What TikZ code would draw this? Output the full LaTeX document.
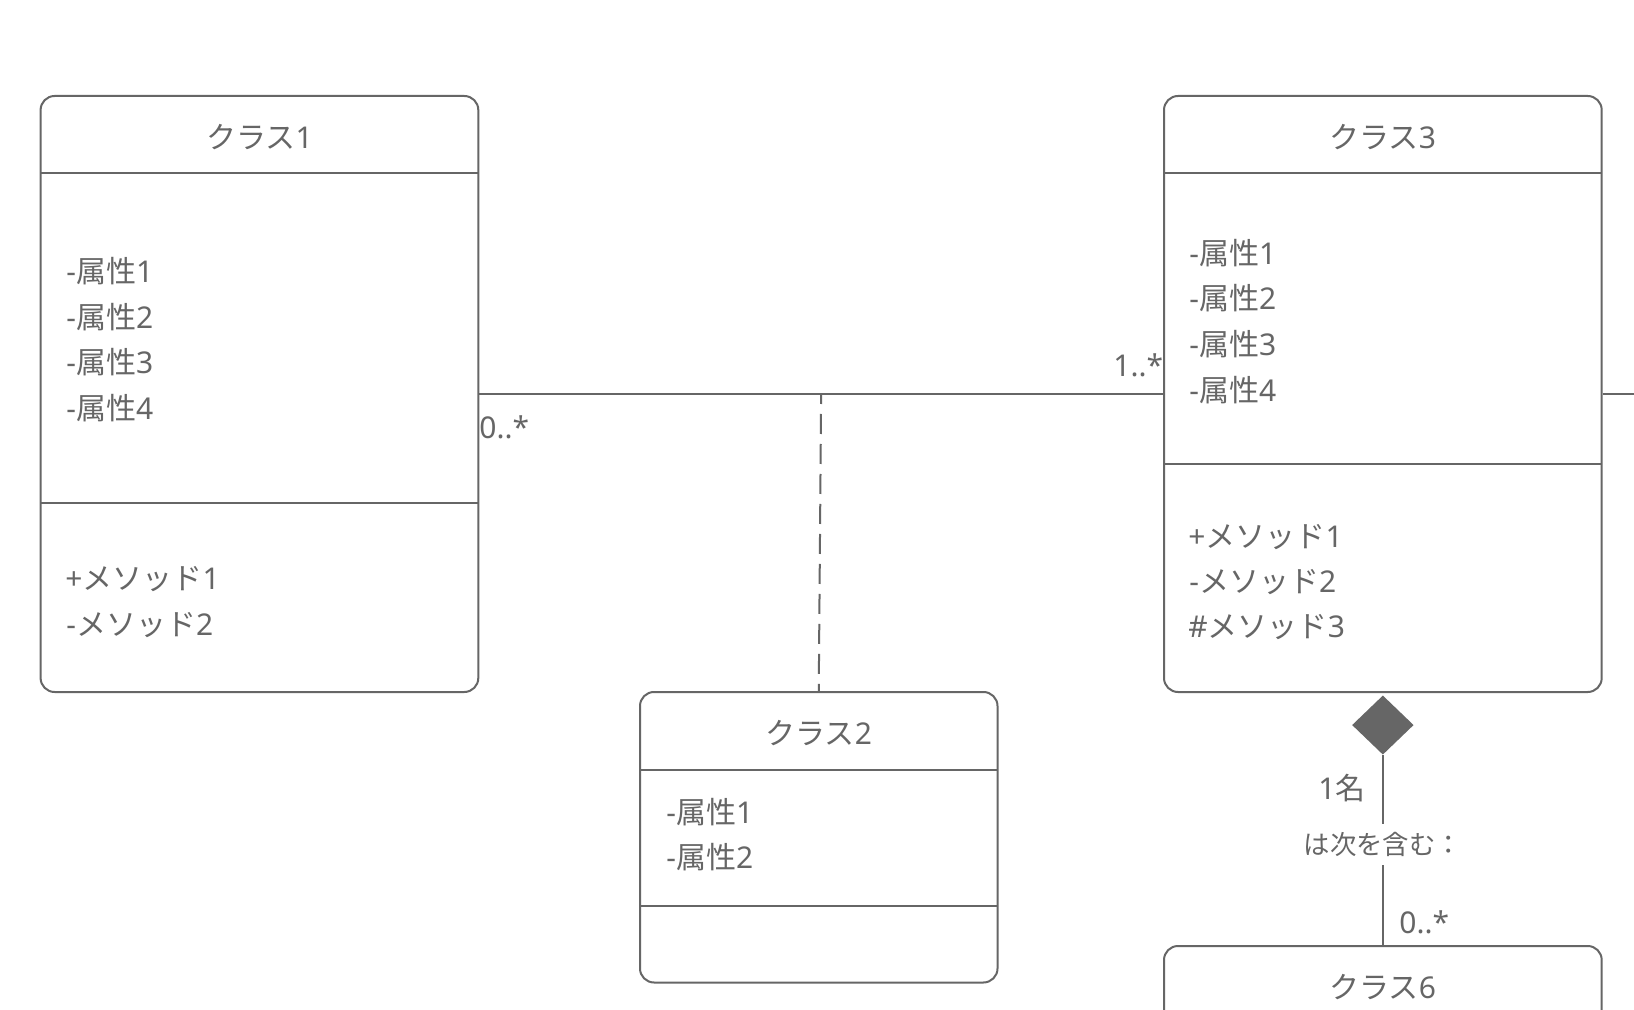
\documentclass[tikz,border=0pt]{standalone}
\usepackage{fontspec}
\setmainfont{Noto Sans CJK JP}
\newfontfamily\latfont{Noto Sans}
\newcommand\ltn[1]{{\latfont #1}}
\usetikzlibrary{shapes.geometric,calc}
\definecolor{lc}{HTML}{666666}
\definecolor{tc}{HTML}{666666}
\tikzset{
  ln/.style={draw=lc, line width=1pt},
  cls/.style={draw=lc, line width=1pt, rounded corners=7pt, inner sep=0pt, fill=white, rectangle},
  ttl/.style={text=tc, font=\fontsize{15}{18}\selectfont, inner sep=0pt, text height=12.45pt, text depth=1.05pt},
  itm/.style={ttl, anchor=west},
  mult/.style={ttl},
  lbl/.style={text=tc, font=\fontsize{13.2}{16}\selectfont, inner xsep=2pt, inner ysep=4.2pt, text height=10.95pt, text depth=0.95pt, fill=white},
  comp/.style={diamond, fill=lc, draw=none, inner sep=0pt, minimum width=30.85pt, minimum height=29.65pt}
}
\begin{document}
\begin{tikzpicture}[x=0.5pt,y=-0.5pt]
\useasboundingbox (0,0) rectangle (1634,1010);
\fill[white] (0,0) rectangle (1634,1010);
\clip (0,0) rectangle (1634,1010);

% classes
\node[cls, minimum width=218.85pt, minimum height=298pt] (c1) at (259.45,394) {};
\node[cls, minimum width=218.85pt, minimum height=298pt] (c3) at (1382.85,394) {};
\node[cls, minimum width=178.75pt, minimum height=145.25pt] (c2) at (818.75,837.25) {};
\node[cls, minimum width=218.85pt, minimum height=127pt] (c6) at (1382.85,1073) {};

% dividers
\draw[ln] (40.6,173) -- (478.3,173);
\draw[ln] (40.6,503.3) -- (478.3,503.3);
\draw[ln] (1164,173) -- (1601.7,173);
\draw[ln] (1164,464) -- (1601.7,464);
\draw[ln] (640,770) -- (997.5,770);
\draw[ln] (640,905.5) -- (997.5,905.5);

% class 1 texts
\node[ttl] (c1t) at (259.45,137.5) {クラス\ltn{1}};
\node[itm] (c1a1) at (66,271.2) {\ltn{-}属性\ltn{1}};
\node[itm] (c1a2) at (66,316.8) {\ltn{-}属性\ltn{2}};
\node[itm] (c1a3) at (66,362.4) {\ltn{-}属性\ltn{3}};
\node[itm] (c1a4) at (66,408) {\ltn{-}属性\ltn{4}};
\node[itm] (c1m1) at (65,578.5) {\ltn{+}メソッド\ltn{1}};
\node[itm] (c1m2) at (66,624.3) {\ltn{-}メソッド\ltn{2}};

% class 3 texts
\node[ttl] (c3t) at (1382.85,137.5) {クラス\ltn{3}};
\node[itm] (c3a1) at (1189,253) {\ltn{-}属性\ltn{1}};
\node[itm] (c3a2) at (1189,298.6) {\ltn{-}属性\ltn{2}};
\node[itm] (c3a3) at (1189,344.3) {\ltn{-}属性\ltn{3}};
\node[itm] (c3a4) at (1189,390) {\ltn{-}属性\ltn{4}};
\node[itm] (c3m1) at (1188,536.5) {\ltn{+}メソッド\ltn{1}};
\node[itm] (c3m2) at (1189,581.5) {\ltn{-}メソッド\ltn{2}};
\node[itm] (c3m3) at (1188,626.5) {\ltn{\#}メソッド\ltn{3}};

% class 2 texts
\node[ttl] (c2t) at (818.75,733.5) {クラス\ltn{2}};
\node[itm] (c2a1) at (666,812.5) {\ltn{-}属性\ltn{1}};
\node[itm] (c2a2) at (666,856.7) {\ltn{-}属性\ltn{2}};

% class 6 text
\node[ttl] (c6t) at (1382.85,986.7) {クラス\ltn{6}};

% association class1 - class3
\draw[ln] (c1.east) -- (c3.west);
\coordinate (mid) at ($(c1.east)!0.5!(c3.west)$);
\draw[ln, dash pattern=on 10pt off 5pt, dash phase=5pt] (mid) -- (c2.north);
\node[mult, anchor=west] (m1) at (479,427) {\ltn{0..*}};
\node[mult, anchor=east] (m3) at (1163.5,365) {\ltn{1..*}};

% line leaving class 3 to the right
\coordinate (edge) at (1645,394);
\draw[ln] (c3.east) -- (edge);

% composition class3 - class6
\node[comp, anchor=north] (dia) at ([yshift=-1pt]c3.south) {};
\draw[ln] (dia.south) -- node[lbl, pos=0.47] (lab) {は次を含む：} (c6.north);
\node[mult, anchor=east] (m5) at (1366,788) {\ltn{1}名};
\node[mult, anchor=west] (m6) at (1399,921.7) {\ltn{0..*}};
\end{tikzpicture}
\end{document}
